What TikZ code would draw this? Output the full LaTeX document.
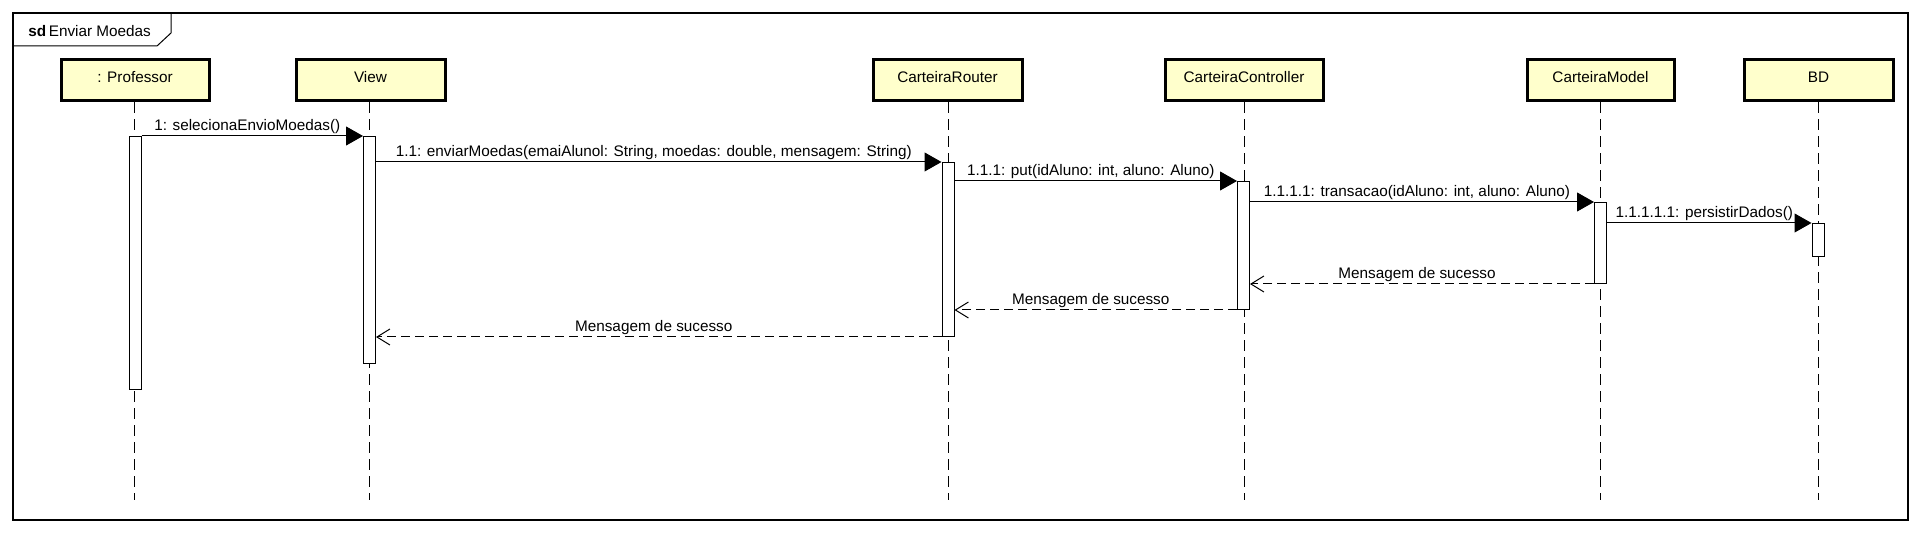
\documentclass[tikz,border=0pt]{standalone}
\usepackage{fontspec}
\setmainfont{Liberation Sans}
\usetikzlibrary{arrows.meta}
\definecolor{lifefill}{HTML}{FFFFCC}
\tikzset{
  lifebox/.style={draw, line width=1.5pt, fill=lifefill, minimum height=20.5pt, inner sep=0pt, text height=6.2pt, text depth=4pt},
  lifeline/.style={line width=0.5pt, dash pattern=on 5.5pt off 3pt},
  actbox/.style={draw, line width=0.5pt, fill=white, minimum width=6pt, inner sep=0pt, anchor=north},
  callmsg/.style={line width=0.5pt, -{Triangle[length=8.5pt,width=9.5pt]}},
  returnmsg/.style={line width=0.5pt, dash pattern=on 4.5pt off 2.5pt, -{Straight Barb[length=6.5pt,width=8pt]}},
  msglabel/.style={midway, anchor=base, inner sep=0pt, xshift=-2.5pt, yshift=2.5pt},
}
\begin{document}
\begin{tikzpicture}[x=0.5pt, y=-0.5pt, font=\fontsize{7.65pt}{9.2pt}\selectfont]
            \useasboundingbox (0,0) rectangle (1929,533);

            % frame
            \draw[line width=0.8pt] (13,13) rectangle (1908,520);
            \draw[line width=0.5pt] (13,46) -- (157,46) -- (171,33) -- (171,13);
            \node[anchor=base west, inner sep=0pt] (title) at (28,37) {\textbf{sd}\,Enviar Moedas};

            % lifelines
            \node[lifebox, minimum width=74pt] (prof) at (135,80.5) {: Professor};
            \node[lifebox, minimum width=74.5pt] (view) at (370.5,80.5) {View};
            \node[lifebox, minimum width=74.5pt] (router) at (947.5,80.5) {CarteiraRouter};
            \node[lifebox, minimum width=79pt] (ctrl) at (1244,80.5) {CarteiraController};
            \node[lifebox, minimum width=73.5pt] (model) at (1600.5,80.5) {CarteiraModel};
            \node[lifebox, minimum width=74.5pt] (bd) at (1818.5,80.5) {BD};

            \coordinate (profend) at (134,500);
            \coordinate (viewend) at (369,500);
            \coordinate (routerend) at (948,500);
            \coordinate (ctrlend) at (1244,500);
            \coordinate (modelend) at (1600,500);
            \coordinate (bdend) at (1818,500);

            \draw[lifeline] (prof.south -| profend) -- (profend);
            \draw[lifeline] (view.south -| viewend) -- (viewend);
            \draw[lifeline] (router.south -| routerend) -- (routerend);
            \draw[lifeline] (ctrl.south -| ctrlend) -- (ctrlend);
            \draw[lifeline] (model.south -| modelend) -- (modelend);
            \draw[lifeline] (bd.south -| bdend) -- (bdend);

            % activations
            \node[actbox, minimum height=126.5pt] (actprof) at (135,136) {};
            \node[actbox, minimum height=113.5pt] (actview) at (369.5,136) {};
            \node[actbox, minimum height=87pt] (actrouter) at (948,162) {};
            \node[actbox, minimum height=64pt] (actctrl) at (1243.5,181) {};
            \node[actbox, minimum height=40.5pt] (actmodel) at (1600.5,202) {};
            \node[actbox, minimum height=16.5pt] (actbd) at (1818,223) {};

            % calls
            \draw[callmsg] (actprof.east |- actview.north) -- (actview.north west)
                node[msglabel] {1: selecionaEnvioMoedas()};
            \draw[callmsg] (actview.east |- actrouter.north) -- (actrouter.north west)
                node[msglabel] {1.1: enviarMoedas(emaiAlunol: String, moedas: double, mensagem: String)};
            \draw[callmsg] (actrouter.east |- actctrl.north) -- (actctrl.north west)
                node[msglabel] {1.1.1: put(idAluno: int, aluno: Aluno)};
            \draw[callmsg] (actctrl.east |- actmodel.north) -- (actmodel.north west)
                node[msglabel] {1.1.1.1: transacao(idAluno: int, aluno: Aluno)};
            \draw[callmsg] (actmodel.east |- actbd.north) -- (actbd.north west)
                node[msglabel] {1.1.1.1.1: persistirDados()};

            % returns
            \draw[returnmsg] (actmodel.south west) -- (actctrl.east |- actmodel.south)
                node[msglabel] {Mensagem de sucesso};
            \draw[returnmsg] (actctrl.south west) -- (actrouter.east |- actctrl.south)
                node[msglabel] {Mensagem de sucesso};
            \draw[returnmsg] (actrouter.south west) -- (actview.east |- actrouter.south)
                node[msglabel] {Mensagem de sucesso};
        \end{tikzpicture}
\end{document}
